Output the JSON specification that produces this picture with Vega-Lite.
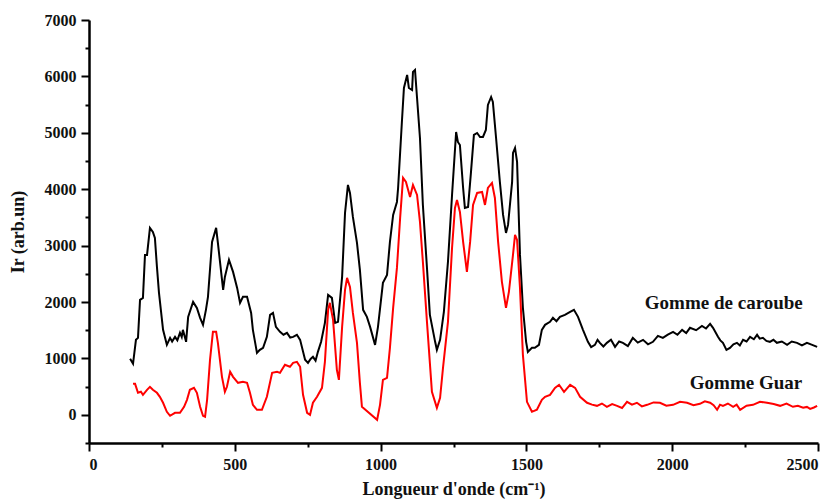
{
  "$schema": "https://vega.github.io/schema/vega-lite/v6.json",
  "width": 729,
  "height": 423,
  "autosize": {"type": "none"},
  "padding": {"left": 89, "top": 20, "right": 21, "bottom": 61},
  "background": "white",
  "config": {"view": {"stroke": null}},
  "datasets": {
    "caroube": [
      {"x":141,"y":992},{"x":151,"y":904},{"x":161,"y":1329},{"x":168,"y":1364},{"x":175,"y":2038},{"x":185,"y":2073},{"x":192,"y":2835},{"x":199,"y":2835},{"x":209,"y":3314},{"x":219,"y":3243},{"x":226,"y":3136},{"x":233,"y":2622},{"x":240,"y":2162},{"x":254,"y":1506},{"x":267,"y":1240},{"x":278,"y":1364},{"x":285,"y":1300},{"x":295,"y":1382},{"x":303,"y":1320},{"x":312,"y":1453},{"x":318,"y":1380},{"x":322,"y":1506},{"x":333,"y":1294},{"x":340,"y":1737},{"x":357,"y":2002},{"x":370,"y":1896},{"x":381,"y":1719},{"x":391,"y":1595},{"x":401,"y":1861},{"x":408,"y":2091},{"x":422,"y":3066},{"x":436,"y":3314},{"x":442,"y":3048},{"x":460,"y":2215},{"x":466,"y":2445},{"x":480,"y":2747},{"x":494,"y":2534},{"x":508,"y":2250},{"x":518,"y":1985},{"x":528,"y":2091},{"x":542,"y":2091},{"x":556,"y":1807},{"x":562,"y":1506},{"x":576,"y":1099},{"x":586,"y":1152},{"x":597,"y":1187},{"x":610,"y":1382},{"x":621,"y":1772},{"x":631,"y":1807},{"x":641,"y":1559},{"x":655,"y":1471},{"x":667,"y":1420},{"x":679,"y":1453},{"x":690,"y":1370},{"x":700,"y":1382},{"x":713,"y":1418},{"x":724,"y":1329},{"x":741,"y":975},{"x":751,"y":921},{"x":760,"y":990},{"x":768,"y":1028},{"x":777,"y":960},{"x":785,"y":1116},{"x":796,"y":1294},{"x":809,"y":1630},{"x":820,"y":2126},{"x":833,"y":2073},{"x":844,"y":1630},{"x":854,"y":1648},{"x":868,"y":2445},{"x":878,"y":3579},{"x":888,"y":4076},{"x":895,"y":3934},{"x":905,"y":3509},{"x":919,"y":3048},{"x":929,"y":2569},{"x":940,"y":1861},{"x":953,"y":1737},{"x":964,"y":1559},{"x":981,"y":1240},{"x":991,"y":1559},{"x":1008,"y":2339},{"x":1022,"y":2481},{"x":1032,"y":3066},{"x":1043,"y":3544},{"x":1056,"y":3774},{"x":1060,"y":4022},{"x":1073,"y":5192},{"x":1080,"y":5794},{"x":1091,"y":6025},{"x":1097,"y":5794},{"x":1108,"y":5759},{"x":1111,"y":6078},{"x":1118,"y":6113},{"x":1125,"y":5617},{"x":1135,"y":4908},{"x":1145,"y":3721},{"x":1159,"y":2605},{"x":1169,"y":1772},{"x":1187,"y":1294},{"x":1193,"y":1152},{"x":1204,"y":1329},{"x":1217,"y":1825},{"x":1231,"y":2711},{"x":1245,"y":3898},{"x":1259,"y":5015},{"x":1265,"y":4838},{"x":1272,"y":4784},{"x":1283,"y":4022},{"x":1289,"y":3668},{"x":1300,"y":3686},{"x":1310,"y":4306},{"x":1320,"y":4962},{"x":1331,"y":4997},{"x":1341,"y":4926},{"x":1351,"y":4926},{"x":1361,"y":5050},{"x":1368,"y":5493},{"x":1379,"y":5635},{"x":1385,"y":5546},{"x":1396,"y":4908},{"x":1409,"y":4129},{"x":1420,"y":3544},{"x":1430,"y":3225},{"x":1437,"y":3367},{"x":1451,"y":4129},{"x":1454,"y":4643},{"x":1461,"y":4731},{"x":1468,"y":4483},{"x":1478,"y":2835},{"x":1488,"y":1896},{"x":1499,"y":1294},{"x":1505,"y":1116},{"x":1519,"y":1187},{"x":1529,"y":1187},{"x":1543,"y":1240},{"x":1553,"y":1506},{"x":1564,"y":1595},{"x":1581,"y":1648},{"x":1591,"y":1719},{"x":1603,"y":1660},{"x":1615,"y":1737},{"x":1632,"y":1772},{"x":1650,"y":1825},{"x":1663,"y":1861},{"x":1677,"y":1737},{"x":1694,"y":1506},{"x":1711,"y":1294},{"x":1722,"y":1200},{"x":1735,"y":1240},{"x":1744,"y":1330},{"x":1752,"y":1276},{"x":1764,"y":1210},{"x":1776,"y":1276},{"x":1790,"y":1330},{"x":1804,"y":1205},{"x":1818,"y":1300},{"x":1831,"y":1276},{"x":1848,"y":1220},{"x":1865,"y":1364},{"x":1882,"y":1280},{"x":1900,"y":1329},{"x":1917,"y":1250},{"x":1934,"y":1294},{"x":1951,"y":1400},{"x":1968,"y":1364},{"x":1985,"y":1420},{"x":2003,"y":1471},{"x":2018,"y":1420},{"x":2034,"y":1506},{"x":2048,"y":1450},{"x":2061,"y":1542},{"x":2082,"y":1500},{"x":2102,"y":1577},{"x":2116,"y":1530},{"x":2130,"y":1613},{"x":2140,"y":1542},{"x":2157,"y":1382},{"x":2165,"y":1320},{"x":2174,"y":1276},{"x":2186,"y":1150},{"x":2198,"y":1187},{"x":2210,"y":1250},{"x":2222,"y":1276},{"x":2232,"y":1230},{"x":2243,"y":1329},{"x":2255,"y":1300},{"x":2267,"y":1382},{"x":2280,"y":1340},{"x":2291,"y":1418},{"x":2300,"y":1350},{"x":2311,"y":1364},{"x":2323,"y":1310},{"x":2335,"y":1294},{"x":2347,"y":1330},{"x":2359,"y":1276},{"x":2376,"y":1300},{"x":2394,"y":1240},{"x":2410,"y":1300},{"x":2428,"y":1276},{"x":2445,"y":1230},{"x":2462,"y":1276},{"x":2480,"y":1240},{"x":2497,"y":1205}
    ],
    "guar": [
      {"x":151,"y":549},{"x":158,"y":549},{"x":168,"y":390},{"x":178,"y":408},{"x":185,"y":354},{"x":199,"y":443},{"x":209,"y":496},{"x":219,"y":443},{"x":233,"y":390},{"x":243,"y":319},{"x":254,"y":213},{"x":267,"y":53},{"x":278,"y":-18},{"x":295,"y":35},{"x":312,"y":35},{"x":326,"y":142},{"x":336,"y":266},{"x":346,"y":443},{"x":360,"y":478},{"x":370,"y":390},{"x":381,"y":142},{"x":391,"y":-18},{"x":398,"y":-35},{"x":405,"y":266},{"x":415,"y":975},{"x":425,"y":1471},{"x":436,"y":1471},{"x":442,"y":1276},{"x":456,"y":673},{"x":466,"y":408},{"x":473,"y":496},{"x":484,"y":762},{"x":494,"y":673},{"x":511,"y":567},{"x":528,"y":585},{"x":542,"y":567},{"x":552,"y":390},{"x":562,"y":177},{"x":576,"y":89},{"x":593,"y":89},{"x":610,"y":319},{"x":628,"y":744},{"x":645,"y":762},{"x":655,"y":744},{"x":672,"y":886},{"x":689,"y":851},{"x":700,"y":921},{"x":713,"y":939},{"x":724,"y":851},{"x":734,"y":354},{"x":748,"y":35},{"x":758,"y":0},{"x":768,"y":213},{"x":782,"y":319},{"x":799,"y":478},{"x":809,"y":939},{"x":820,"y":1861},{"x":826,"y":1985},{"x":837,"y":1683},{"x":850,"y":797},{"x":857,"y":620},{"x":868,"y":1559},{"x":878,"y":2215},{"x":885,"y":2428},{"x":895,"y":2268},{"x":905,"y":1807},{"x":919,"y":1276},{"x":929,"y":567},{"x":936,"y":142},{"x":988,"y":-89},{"x":998,"y":177},{"x":1008,"y":620},{"x":1022,"y":656},{"x":1032,"y":1187},{"x":1043,"y":1896},{"x":1056,"y":2605},{"x":1067,"y":3491},{"x":1077,"y":4200},{"x":1087,"y":4129},{"x":1101,"y":3863},{"x":1111,"y":4076},{"x":1125,"y":3898},{"x":1135,"y":3420},{"x":1145,"y":2711},{"x":1159,"y":1648},{"x":1176,"y":408},{"x":1193,"y":124},{"x":1204,"y":301},{"x":1214,"y":833},{"x":1231,"y":1648},{"x":1245,"y":2959},{"x":1255,"y":3668},{"x":1262,"y":3810},{"x":1272,"y":3597},{"x":1283,"y":3066},{"x":1296,"y":2534},{"x":1307,"y":3066},{"x":1317,"y":3721},{"x":1331,"y":3934},{"x":1348,"y":3952},{"x":1358,"y":3721},{"x":1368,"y":4022},{"x":1382,"y":4111},{"x":1392,"y":3845},{"x":1403,"y":3066},{"x":1416,"y":2357},{"x":1430,"y":1896},{"x":1440,"y":2180},{"x":1454,"y":2835},{"x":1461,"y":3190},{"x":1468,"y":3101},{"x":1478,"y":2250},{"x":1488,"y":1063},{"x":1502,"y":230},{"x":1519,"y":53},{"x":1536,"y":89},{"x":1553,"y":266},{"x":1564,"y":319},{"x":1581,"y":354},{"x":1598,"y":478},{"x":1612,"y":532},{"x":1629,"y":408},{"x":1650,"y":532},{"x":1667,"y":478},{"x":1684,"y":319},{"x":1708,"y":213},{"x":1725,"y":180},{"x":1742,"y":159},{"x":1759,"y":200},{"x":1776,"y":142},{"x":1794,"y":190},{"x":1811,"y":159},{"x":1828,"y":120},{"x":1845,"y":230},{"x":1862,"y":180},{"x":1879,"y":213},{"x":1896,"y":150},{"x":1914,"y":177},{"x":1936,"y":220},{"x":1958,"y":213},{"x":1980,"y":160},{"x":2003,"y":177},{"x":2027,"y":230},{"x":2051,"y":213},{"x":2073,"y":170},{"x":2095,"y":195},{"x":2112,"y":240},{"x":2130,"y":213},{"x":2142,"y":170},{"x":2154,"y":89},{"x":2164,"y":180},{"x":2174,"y":159},{"x":2191,"y":200},{"x":2209,"y":142},{"x":2221,"y":180},{"x":2233,"y":89},{"x":2255,"y":160},{"x":2277,"y":177},{"x":2301,"y":230},{"x":2325,"y":213},{"x":2348,"y":190},{"x":2370,"y":159},{"x":2392,"y":200},{"x":2414,"y":142},{"x":2431,"y":160},{"x":2449,"y":124},{"x":2462,"y":140},{"x":2473,"y":106},{"x":2486,"y":130},{"x":2497,"y":159}
    ],
    "labels": [
      {"t":"Gomme de caroube","x":2177,"y":1985},
      {"t":"Gomme Guar","x":2253,"y":567}
    ]
  },
  "encoding": {
    "x": {
      "field": "x", "type": "quantitative",
      "scale": {"domain": [0, 2500], "nice": false, "zero": false},
      "axis": {
        "values": [0,250,500,750,1000,1250,1500,1750,2000,2250,2500],
        "labelExpr": "datum.value % 500 === 0 ? datum.label : ''",
        "format": "d",
        "grid": false,
        "domainColor": "#000", "domainWidth": 2.5,
        "tickColor": "#000", "tickWidth": 2,
        "tickSize": {"condition": {"test": "datum.value % 500 === 0", "value": 8}, "value": 4},
        "labelFont": "Liberation Serif", "labelFontWeight": "bold", "labelFontSize": 16, "labelColor": "#111", "labelPadding": 5,
        "title": "Longueur d'onde (cm⁻¹)",
        "titleFont": "Liberation Serif", "titleFontWeight": "bold", "titleFontSize": 18, "titleColor": "#111", "titlePadding": 8
      }
    },
    "y": {
      "field": "y", "type": "quantitative",
      "scale": {"domain": [-500, 7000], "nice": false, "zero": false},
      "axis": {
        "values": [-500,0,500,1000,1500,2000,2500,3000,3500,4000,4500,5000,5500,6000,6500,7000],
        "labelExpr": "datum.value % 1000 === 0 ? datum.label : ''",
        "format": "d",
        "grid": false,
        "domainColor": "#000", "domainWidth": 2.5,
        "tickColor": "#000", "tickWidth": 2,
        "tickSize": {"condition": {"test": "datum.value % 1000 === 0", "value": 8}, "value": 4},
        "labelFont": "Liberation Serif", "labelFontWeight": "bold", "labelFontSize": 16, "labelColor": "#111", "labelPadding": 5,
        "title": "Ir (arb.un)",
        "titleFont": "Liberation Serif", "titleFontWeight": "bold", "titleFontSize": 18, "titleColor": "#111", "titlePadding": 17
      }
    }
  },
  "layer": [
    {"data": {"name": "caroube"}, "mark": {"type": "line", "color": "#000000", "strokeWidth": 2, "clip": true}},
    {"data": {"name": "guar"}, "mark": {"type": "line", "color": "#ff0000", "strokeWidth": 2, "clip": true}},
    {"data": {"name": "labels"}, "mark": {"type": "text", "font": "Liberation Serif", "fontWeight": "bold", "fontSize": 19, "color": "#111", "align": "center", "baseline": "middle"},
     "encoding": {"text": {"field": "t"}}}
  ]
}
